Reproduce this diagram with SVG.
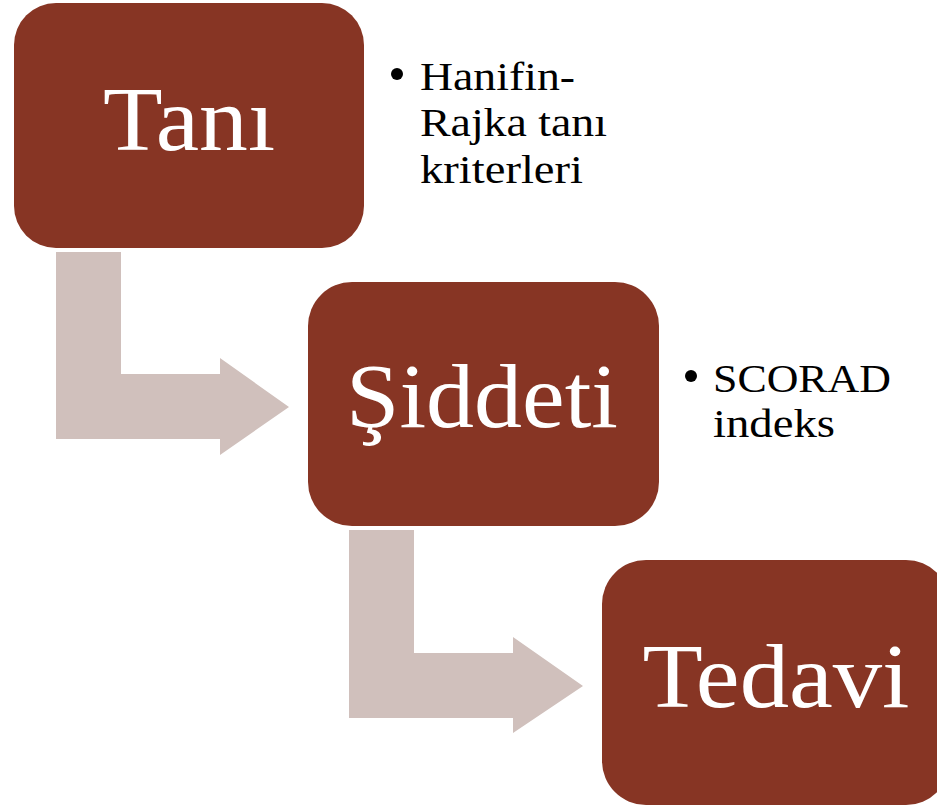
<svg xmlns="http://www.w3.org/2000/svg" width="937" height="806" viewBox="0 0 937 806">
  <style>
    .box { fill: #873524; }
    .bend { fill: #D0C0BC; }
    .title { font-family: "Liberation Serif", "DejaVu Serif", serif; font-size: 92px; fill: #FFFFFF; text-anchor: middle; }
    .note { font-family: "Liberation Serif", "DejaVu Serif", serif; font-size: 40px; fill: #000000; }
    .dot { fill: #000000; }
  </style>
  <rect width="937" height="806" fill="#FFFFFF"/>

  <!-- bent-up arrows linking the steps -->
  <g id="connectors">
    <path class="bend" d="M56,252 L121,252 L121,374 L220,374 L220,358 L289,407 L220,455 L220,439 L56,439 Z"/>
    <path class="bend" d="M349,530 L414,530 L414,653 L513,653 L513,637 L583,686 L513,733 L513,718 L349,718 Z"/>
  </g>

  <g id="tani">
    <rect class="box" x="14" y="3" width="350" height="245" rx="42" ry="42"/>
    <text class="title" x="189" y="150" textLength="172" lengthAdjust="spacingAndGlyphs">Tanı</text>
  </g>

  <g id="tani-note">
    <circle class="dot" cx="397" cy="74" r="6"/>
    <text class="note" x="420" y="90" textLength="155" lengthAdjust="spacingAndGlyphs">Hanifin-</text>
    <text class="note" x="420" y="136" textLength="187" lengthAdjust="spacingAndGlyphs">Rajka tanı</text>
    <text class="note" x="420" y="183" textLength="163" lengthAdjust="spacingAndGlyphs">kriterleri</text>
  </g>

  <g id="siddeti">
    <rect class="box" x="308" y="282" width="351" height="244" rx="44" ry="44"/>
    <text class="title" x="482" y="427" textLength="272" lengthAdjust="spacingAndGlyphs">Şiddeti</text>
  </g>

  <g id="siddeti-note">
    <circle class="dot" cx="691" cy="376" r="6"/>
    <text class="note" x="713" y="392" textLength="178" lengthAdjust="spacingAndGlyphs">SCORAD</text>
    <text class="note" x="713" y="437" textLength="122" lengthAdjust="spacingAndGlyphs">indeks</text>
  </g>

  <g id="tedavi">
    <rect class="box" x="602" y="560" width="348" height="245" rx="44" ry="44"/>
    <text class="title" x="776" y="707" textLength="267" lengthAdjust="spacingAndGlyphs">Tedavi</text>
  </g>
</svg>
